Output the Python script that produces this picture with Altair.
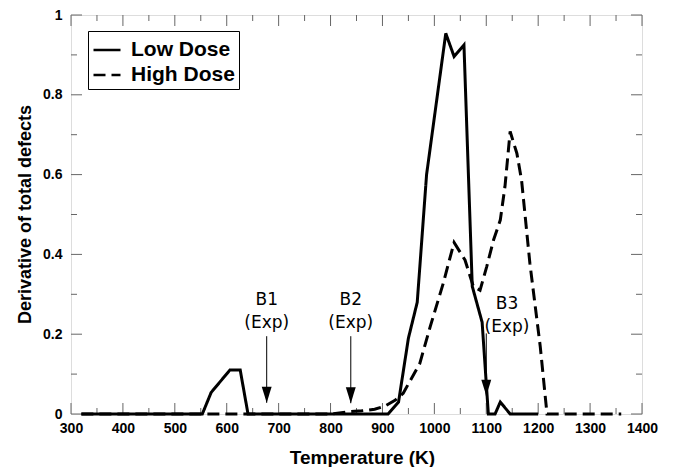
import altair as alt
import pandas as pd

# ---- data ----
low_T = [320, 553, 570, 606, 626, 641, 911, 931, 950, 967, 985, 1022, 1038, 1057,
         1073, 1092, 1104, 1117, 1127, 1146, 1200]
low_y = [0, 0, 0.054, 0.11, 0.11, 0, 0, 0.03, 0.19, 0.28, 0.60, 0.954, 0.896, 0.925,
         0.32, 0.23, 0, 0, 0.03, 0, 0]

high_T = [320, 800, 830, 860, 885, 905, 925, 940, 972, 992, 1017, 1038, 1059, 1075,
          1088, 1101, 1114, 1127, 1136, 1146, 1159, 1168, 1184, 1204, 1217, 1360]
high_y = [0, 0, 0.005, 0.008, 0.012, 0.02, 0.035, 0.052, 0.127, 0.219, 0.327, 0.43,
          0.386, 0.32, 0.31, 0.37, 0.436, 0.486, 0.57, 0.708, 0.653, 0.586, 0.378,
          0.169, 0, 0]

series = ["Low Dose", "High Dose"]

ann_name = ["B1", "B2", "B3"]
ann_arrow_T = [677, 839, 1100]
ann_text_T = [677, 839, 1140]
ann_text_y = [0.286, 0.286, 0.276]
ann_arrow_top = [0.195, 0.195, 0.202]
ann_arrow_tip = [0.028, 0.027, 0.046]

x_major = [300, 400, 500, 600, 700, 800, 900, 1000, 1100, 1200, 1300, 1400]
x_minor = [350, 450, 550, 650, 750, 850, 950, 1050, 1150, 1250, 1350]
y_major = [0, 0.2, 0.4, 0.6, 0.8, 1.0]
y_minor = [0.1, 0.3, 0.5, 0.7, 0.9]

W, H = 571, 399
FONT = "Liberation Sans"
FRAME = "#666666"

df = pd.concat([
    pd.DataFrame({"T": low_T, "v": low_y, "Dose": series[0]}),
    pd.DataFrame({"T": high_T, "v": high_y, "Dose": series[1]}),
])
ann = pd.DataFrame({"name": ann_name, "xa": ann_arrow_T, "xt": ann_text_T,
                    "yt": ann_text_y, "top": ann_arrow_top, "tip": ann_arrow_tip})

xs = alt.Scale(domain=[300, 1400], nice=False, zero=False)
ys = alt.Scale(domain=[0, 1], nice=False)

x_axis = alt.Axis(values=x_major, format="d", ticks=False, domain=False, grid=False,
                  tickSize=0, labelPadding=7, labelFont=FONT, labelFontSize=14,
                  labelFontWeight="bold", labelColor="black", labelFlush=False,
                  labelOverlap=False,
                  title="Temperature (K)", titleFont=FONT, titleFontSize=19,
                  titleFontWeight="bold", titleColor="black",
                  titleX=291, titleY=43, titleBaseline="middle", titleAlign="center")
y_axis = alt.Axis(values=y_major, format="~g", ticks=False, domain=False, grid=False,
                  tickSize=0, labelPadding=9, labelFont=FONT, labelFontSize=14,
                  labelFontWeight="bold", labelColor="black", labelFlush=False,
                  labelOverlap=False,
                  title="Derivative of total defects", titleFont=FONT, titleFontSize=18,
                  titleFontWeight="bold", titleColor="black",
                  titleX=-46, titleY=199, titleBaseline="middle", titleAlign="center",
                  titleAngle=-90)

lines = alt.Chart(df).mark_line(color="black", strokeWidth=3, strokeJoin="miter").encode(
    x=alt.X("T:Q", scale=xs, axis=x_axis),
    y=alt.Y("v:Q", scale=ys, axis=y_axis),
    strokeDash=alt.StrokeDash(
        "Dose:N",
        scale=alt.Scale(domain=series, range=[[1, 0], [12, 6]]),
        legend=alt.Legend(title=None, orient="none", legendX=17, legendY=16,
                          strokeColor="black", fillColor="white", padding=4,
                          symbolType="stroke", symbolSize=729, symbolStrokeWidth=2.5,
                          symbolStrokeColor="black", labelFont=FONT, labelFontSize=21,
                          labelFontWeight="bold", labelColor="black", labelOffset=9,
                          rowPadding=-4),
    ),
    order=alt.Order("T:Q"),
)

xmaj = pd.DataFrame({"T": x_major})
xmin = pd.DataFrame({"T": x_minor})
ymaj = pd.DataFrame({"v": y_major})
ymin = pd.DataFrame({"v": y_minor})

def xticks(d, L):
    b = alt.Chart(d).mark_rule(color=FRAME, strokeWidth=1).encode(
        x=alt.X("T:Q", scale=xs), y=alt.value(H), y2=alt.value(H - L))
    t = alt.Chart(d).mark_rule(color=FRAME, strokeWidth=1).encode(
        x=alt.X("T:Q", scale=xs), y=alt.value(0), y2=alt.value(L))
    return b + t

def yticks(d, L):
    l = alt.Chart(d).mark_rule(color=FRAME, strokeWidth=1).encode(
        y=alt.Y("v:Q", scale=ys), x=alt.value(0), x2=alt.value(L))
    r = alt.Chart(d).mark_rule(color=FRAME, strokeWidth=1).encode(
        y=alt.Y("v:Q", scale=ys), x=alt.value(W), x2=alt.value(W - L))
    return l + r

arrow_line = alt.Chart(ann).mark_rule(color="black", strokeWidth=1).encode(
    x=alt.X("xa:Q", scale=xs), y=alt.Y("top:Q", scale=ys), y2="tip:Q")
arrow_head = alt.Chart(ann).mark_point(
    shape="M-0.62,-1L0.62,-1L0,1Z", filled=True, color="black", opacity=1,
    size=256, yOffset=-8, strokeWidth=0).encode(
    x=alt.X("xa:Q", scale=xs), y=alt.Y("tip:Q", scale=ys))
lab1 = alt.Chart(ann).mark_text(font="DejaVu Sans", fontSize=17, color="black",
                                baseline="middle", align="center").encode(
    x=alt.X("xt:Q", scale=xs), y=alt.Y("yt:Q", scale=ys), text="name:N")
lab2 = alt.Chart(ann).mark_text(font="DejaVu Sans", fontSize=17, color="black",
                                baseline="middle", align="center", dy=23).encode(
    x=alt.X("xt:Q", scale=xs), y=alt.Y("yt:Q", scale=ys), text=alt.value("(Exp)"))

chart = alt.layer(
    xticks(xmaj, 11), xticks(xmin, 6), yticks(ymaj, 11), yticks(ymin, 6),
    arrow_line, arrow_head, lab1, lab2, lines,
).properties(
    width=W, height=H,
    autosize=alt.AutoSizeParams(type="none"),
    padding={"left": 63, "top": 7, "right": 26, "bottom": 53},
).configure_view(stroke=FRAME, strokeWidth=1).configure(background="white")

chart.save("out.html", embed_options={"renderer": "svg", "actions": False})
